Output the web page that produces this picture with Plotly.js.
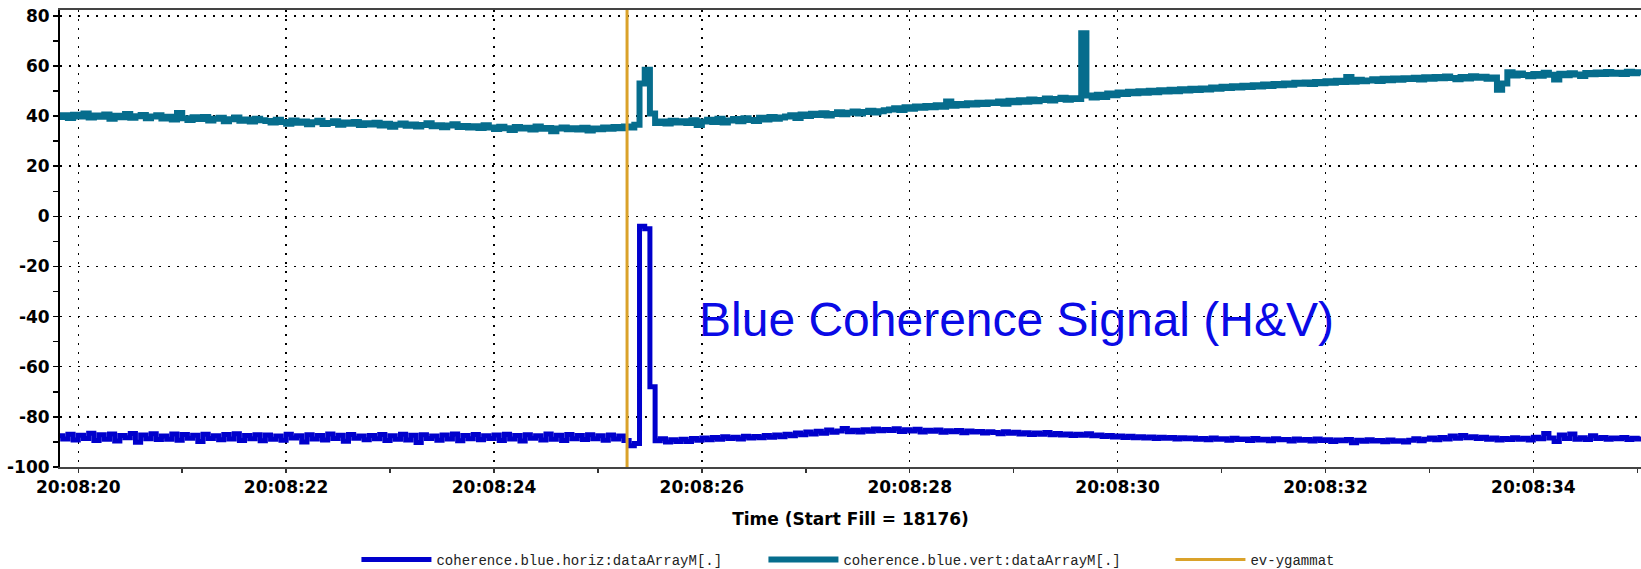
<!DOCTYPE html>
<html>
<head>
<meta charset="utf-8">
<script src="https://cdn.plot.ly/plotly-3.0.1.min.js"></script>
<style>
  html, body { margin: 0; padding: 0; background: #ffffff; }
  #chart { width: 1641px; height: 569px; }
</style>
</head>
<body>
<div id="chart"></div>
<script>
// ---- DATA ----
// samples every 0.05 s starting at 20:08:19.80
const sampleStart = 19.80;   // seconds after 20:08:00
const sampleStep = 0.05;     // seconds

const horizValues = [
  -87.5, -88.8, -86.9, -89.2, -87.3, -88.6, -86.5, -89.4, -87.1, -88.9, -86.8, -89.6, -87.4, -88.3, -86.6, -90.1, -87.2, -88.7, -86.7, -89.0,
  -87.6, -88.9, -86.8, -89.3, -87.0, -88.5, -87.3, -89.8, -86.9, -88.6, -87.5, -89.1, -87.0, -88.8, -86.7, -89.4, -87.4, -88.7, -87.1, -89.5,
  -87.2, -88.9, -87.6, -89.3, -86.9, -88.4, -87.5, -90.0, -87.1, -88.8, -87.4, -89.2, -86.8, -88.6, -87.3, -89.7, -87.0, -88.5, -87.6, -89.1,
  -87.4, -88.7, -87.0, -89.4, -87.5, -88.9, -86.9, -89.2, -87.3, -90.2, -87.1, -88.6, -87.6, -89.3, -87.2, -88.8, -86.8, -89.5, -87.4, -88.7,
  -87.0, -89.1, -87.5, -88.6, -87.2, -89.4, -86.9, -88.8, -87.4, -89.6, -87.1, -88.5, -87.5, -89.2, -86.8, -88.9, -87.3, -89.4, -87.0, -88.7,
  -87.4, -89.0, -87.1, -88.7, -87.5, -89.3, -87.2, -88.8, -87.6, -89.4, -91.5, -90.6, -4.0, -5.0, -68.0, -89.5, -88.7, -90.0, -89.1, -89.8,
  -88.9, -89.8, -88.6, -89.3, -88.4, -89.1, -88.2, -88.9, -87.9, -88.6, -88.1, -88.8, -87.7, -88.4, -87.8, -88.3, -87.4, -88.1, -87.2, -87.9,
  -86.9, -87.5, -86.4, -87.1, -86.0, -86.8, -85.7, -86.5, -85.2, -86.1, -85.6, -84.6, -85.9, -85.3, -86.0, -85.1, -85.7, -84.8, -85.5, -85.0,
  -85.4, -84.7, -85.8, -85.1, -85.6, -84.9, -86.0, -85.3, -85.7, -85.2, -86.1, -85.5, -85.9, -85.4, -86.3, -85.6, -86.0, -85.8, -86.4, -85.9,
  -86.2, -86.7, -85.9, -86.5, -86.1, -86.8, -86.3, -87.0, -86.4, -86.9, -86.2, -87.1, -86.6, -87.2, -86.8, -87.4, -86.9, -87.3, -86.7, -87.5,
  -87.2, -87.8, -87.4, -88.0, -87.6, -88.2, -87.7, -88.3, -87.9, -88.4, -88.0, -88.6, -88.1, -88.5, -88.2, -88.8, -88.3, -88.7, -88.4, -88.9,
  -88.6, -89.1, -88.4, -88.9, -88.7, -89.3, -88.5, -89.0, -88.8, -89.4, -88.6, -89.2, -88.9, -89.5, -88.7, -89.1, -89.0, -89.6, -88.8, -89.3,
  -89.0, -89.6, -88.8, -89.4, -89.1, -89.8, -89.2, -89.5, -89.0, -90.3, -89.3, -89.7, -89.1, -89.6, -89.4, -89.9, -89.2, -89.7, -89.5, -90.0,
  -89.3, -88.7, -89.5, -88.9, -88.4, -89.1, -88.2, -88.8, -87.6, -88.5, -87.4, -88.3, -87.9, -88.6, -88.1, -88.9, -88.4, -89.2, -88.6, -89.0,
  -88.3, -88.9, -88.5, -89.2, -88.1, -88.7, -86.6, -88.4, -89.8, -87.2, -88.6, -86.8, -88.9, -88.3, -89.0, -87.5, -88.6, -88.2, -88.9, -88.4,
  -88.7, -88.2, -89.0, -88.5, -88.8, -88.3
];

const vertValues = [
  39.6, 40.3, 39.2, 40.5, 39.8, 41.0, 39.4, 40.2, 39.7, 40.6, 38.9, 40.1, 39.5, 40.8, 39.3, 39.9, 40.4, 39.1, 39.8, 40.3,
  39.0, 39.7, 38.6, 41.2, 39.1, 38.4, 39.5, 38.8, 39.6, 38.2, 38.9, 39.3, 37.9, 38.7, 39.4, 38.1, 38.6, 37.8, 38.9, 38.3,
  38.0, 37.4, 38.5, 37.6, 36.9, 38.2, 37.3, 37.8, 36.7, 37.5, 38.1, 36.8, 37.2, 37.9, 36.5, 37.4, 36.9, 37.6, 36.4, 37.1,
  36.6, 37.3, 36.2, 36.9, 35.7, 36.5, 37.0, 36.1, 36.6, 35.8, 36.4, 37.1, 35.9, 36.3, 35.5, 36.2, 36.7, 35.6, 36.0, 35.4,
  35.9, 35.2, 36.3, 35.4, 34.8, 35.7, 35.1, 34.4, 35.6, 35.0, 35.3, 34.6, 35.8, 34.9, 35.2, 33.9, 35.0, 35.4, 34.7, 35.1,
  34.6, 35.3, 34.2, 35.0, 34.7, 35.4, 34.9, 35.6, 35.1, 35.8, 35.4, 36.5, 53.0, 58.5, 41.0, 37.2, 37.8, 37.0, 38.1, 37.4,
  37.9, 37.2, 38.3, 36.4, 37.8, 38.5, 37.6, 38.9, 37.4, 38.2, 38.8, 37.9, 39.1, 38.4, 38.0, 39.3, 38.6, 39.6, 38.9, 39.4,
  39.8, 40.3, 39.2, 40.6, 40.0, 40.9, 40.4, 41.1, 40.2, 40.8, 41.5, 40.7, 41.3, 41.8, 41.0, 41.6, 42.1, 41.4, 41.9, 42.3,
  42.6, 43.1, 42.4, 43.5, 42.9, 43.8, 43.3, 44.0, 43.5, 44.3, 43.7, 45.8, 44.1, 44.8, 44.3, 45.1, 44.6, 45.3, 44.8, 45.4,
  45.2, 45.8, 44.9, 46.1, 45.5, 46.3, 45.7, 46.6, 45.9, 46.4, 47.0, 46.2, 46.8, 47.3, 46.5, 47.1, 46.8, 73.0, 48.2, 47.4,
  48.5, 47.6, 49.0, 48.3, 49.4, 48.8, 49.7, 49.1, 49.9, 49.3, 50.1, 49.5, 50.3, 49.8, 50.5, 49.9, 50.7, 50.2, 50.9, 50.4,
  51.0, 50.6, 51.4, 50.9, 51.7, 51.2, 51.9, 51.4, 52.1, 51.6, 52.3, 51.8, 52.6, 52.0, 52.8, 52.3, 53.0, 52.5, 53.3, 52.9,
  53.4, 52.8, 53.6, 53.1, 53.9, 53.3, 54.1, 53.6, 55.6, 53.7, 54.5, 53.9, 54.2, 54.7, 54.0, 54.9, 54.3, 55.0, 54.5, 55.1,
  54.8, 55.3, 54.6, 55.5, 54.9, 55.6, 55.1, 55.8, 55.2, 54.7, 55.6, 55.0, 55.9, 55.3, 55.7, 54.9, 55.4, 50.5, 53.0, 57.5,
  56.2, 57.0, 56.4, 55.9, 56.8, 56.1, 57.3, 56.5, 54.6, 56.9, 56.3, 57.1, 56.6, 56.0, 57.2, 56.7, 57.4, 56.8, 57.6, 56.9,
  57.3, 56.8, 57.7, 57.1, 57.5, 57.0
];

// event marker time (seconds after 20:08:00)
const eventTimes = [25.28];

// axis ticks
const yTickVals = [-100, -80, -60, -40, -20, 0, 20, 40, 60, 80];
const yTickText = ["-100", "-80", "-60", "-40", "-20", "0", "20", "40", "60", "80"];
const yMinorVals = [-90, -70, -50, -30, -10, 10, 30, 50, 70];
const yRange = [-100, 82.3];
const xRangeSec = [19.824, 35.036];

const seriesNames = ["coherence.blue.horiz:dataArrayM[.]", "coherence.blue.vert:dataArrayM[.]", "ev-ygammat"];
const noteText = "Blue Coherence Signal (H&V)";
const xTitle = "Time (Start Fill = 18176)";

// ---- helpers ----
function ts(sec) {
  return "2020-01-01 20:08:" + sec.toFixed(3).padStart(6, "0");
}
const times = horizValues.map((_, k) => ts(sampleStart + k * sampleStep));

const evX = [], evY = [];
eventTimes.forEach(t => { evX.push(ts(t), ts(t), null); evY.push(yRange[0], yRange[1], null); });

const tickFont = { family: "DejaVu Sans", size: 17, weight: "bold", color: "#000" };

const traces = [
  { x: times, y: horizValues, type: "scatter", mode: "lines", name: seriesNames[0],
    line: { color: "#0000cc", width: 5, shape: "hv" }, hoverinfo: "skip" },
  { x: times, y: vertValues, type: "scatter", mode: "lines", name: seriesNames[1],
    line: { color: "#066d8d", width: 6, shape: "hv" }, hoverinfo: "skip" },
  { x: evX, y: evY, type: "scatter", mode: "lines", name: seriesNames[2],
    line: { color: "#daa22a", width: 3 }, hoverinfo: "skip" }
];

const layout = {
  width: 1641, height: 569,
  margin: { l: 60, r: 0, t: 10, b: 102 },
  paper_bgcolor: "#ffffff", plot_bgcolor: "#ffffff",
  showlegend: true,
  xaxis: {
    type: "date",
    automargin: false,
    range: [ts(xRangeSec[0]), ts(xRangeSec[1])],
    tickformat: "%H:%M:%S",
    dtick: 2000,
    tick0: ts(20),
    ticks: "outside", ticklen: 4, tickwidth: 1.5, tickcolor: "#333",
    minor: { dtick: 1000, ticks: "outside", ticklen: 4, tickwidth: 1.5, tickcolor: "#333", showgrid: false },
    showgrid: true, gridcolor: "#000", gridwidth: 1.5, griddash: "2px,7px",
    showline: true, linecolor: "#444", linewidth: 2, mirror: true,
    zeroline: false,
    tickfont: tickFont,
    title: { text: xTitle, font: tickFont, standoff: 17 }
  },
  yaxis: {
    automargin: false,
    range: yRange,
    tickmode: "array", tickvals: yTickVals, ticktext: yTickText,
    ticks: "outside", ticklen: 5, tickwidth: 1.5, tickcolor: "#000",
    minor: { tickmode: "array", tickvals: yMinorVals, ticks: "outside", ticklen: 5, tickwidth: 1.5, tickcolor: "#000", showgrid: false },
    showgrid: true, gridcolor: "#000", gridwidth: 1.5, griddash: "2px,7px",
    showline: true, linecolor: "#000", linewidth: 2,
    zeroline: false,
    tickfont: tickFont
  },
  legend: {
    orientation: "h",
    xref: "paper", x: 0.1875, xanchor: "left",
    yref: "container", y: 0.0158, yanchor: "middle",
    itemwidth: 70,
    entrywidth: 322,
    font: { family: "Liberation Mono", size: 14, color: "#222" },
    bgcolor: "rgba(0,0,0,0)"
  },
  annotations: [
    { x: ts(25.95), y: -41, xref: "x", yref: "y", text: noteText, showarrow: false,
      xanchor: "left", yanchor: "middle",
      font: { family: "Liberation Sans", size: 48, color: "#0a0ae6" } }
  ]
};

Plotly.newPlot("chart", traces, layout, { displayModeBar: false, staticPlot: true });
</script>
</body>
</html>
